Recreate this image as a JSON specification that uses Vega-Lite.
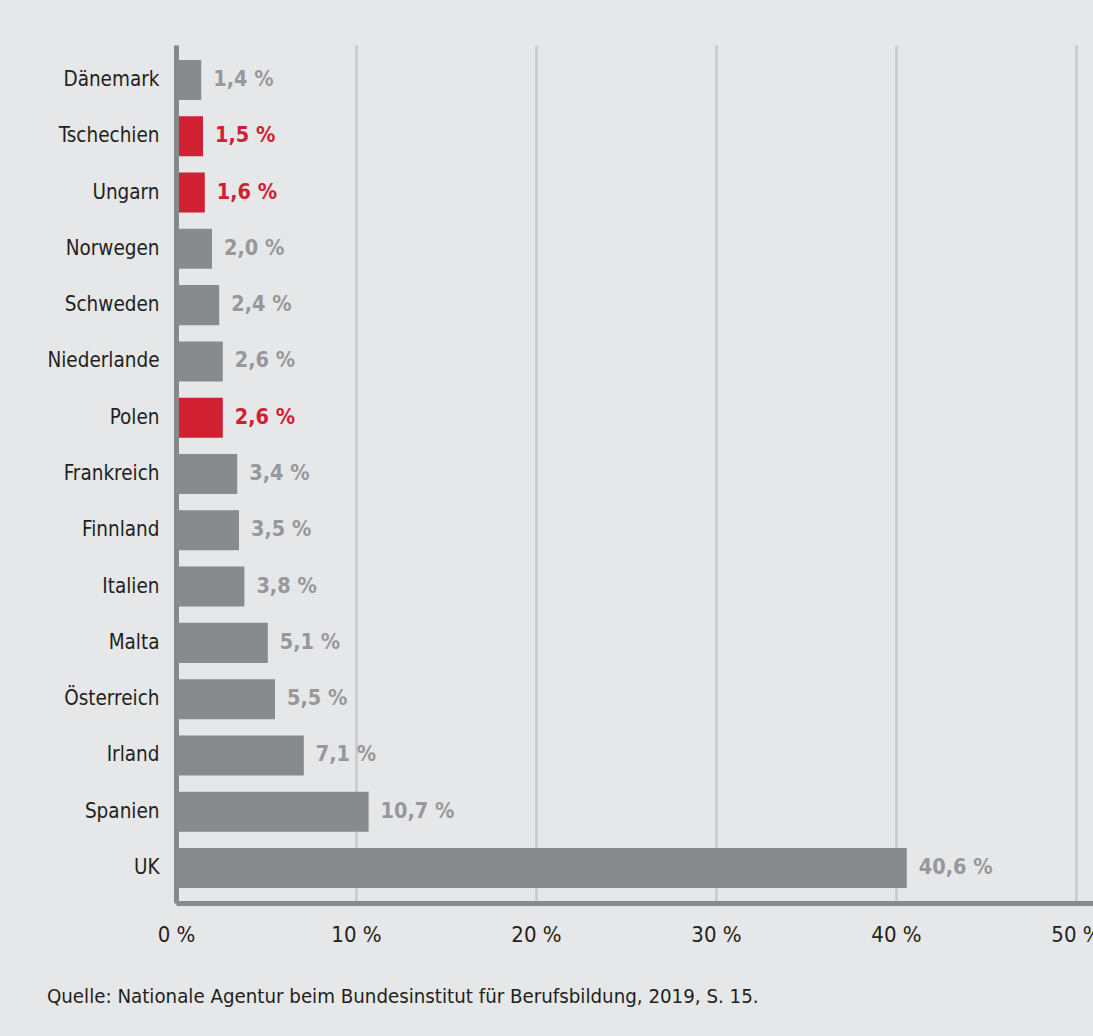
{
  "$schema": "https://vega.github.io/schema/vega-lite/v6.json",
  "autosize": "none",
  "padding": {"left": 176, "top": 45, "right": 0, "bottom": 133},
  "width": 917,
  "height": 858,
  "background": "#e6e7e8",
  "config": {
    "view": {"stroke": null},
    "font": "Liberation Sans Narrow, DejaVu Sans Condensed, sans-serif"
  },
  "title": {
    "text": "Quelle: Nationale Agentur beim Bundesinstitut für Berufsbildung, 2019, S. 15.",
    "orient": "bottom",
    "anchor": "start",
    "frame": "bounds",
    "fontSize": 20.3,
    "fontWeight": "normal",
    "color": "#231f20",
    "offset": 42
  },
  "data": {
    "values": [
      {"land": "Dänemark", "wert": 1.4, "label": "1,4 %", "gruppe": "andere"},
      {"land": "Tschechien", "wert": 1.5, "label": "1,5 %", "gruppe": "V4"},
      {"land": "Ungarn", "wert": 1.6, "label": "1,6 %", "gruppe": "V4"},
      {"land": "Norwegen", "wert": 2.0, "label": "2,0 %", "gruppe": "andere"},
      {"land": "Schweden", "wert": 2.4, "label": "2,4 %", "gruppe": "andere"},
      {"land": "Niederlande", "wert": 2.6, "label": "2,6 %", "gruppe": "andere"},
      {"land": "Polen", "wert": 2.6, "label": "2,6 %", "gruppe": "V4"},
      {"land": "Frankreich", "wert": 3.4, "label": "3,4 %", "gruppe": "andere"},
      {"land": "Finnland", "wert": 3.5, "label": "3,5 %", "gruppe": "andere"},
      {"land": "Italien", "wert": 3.8, "label": "3,8 %", "gruppe": "andere"},
      {"land": "Malta", "wert": 5.1, "label": "5,1 %", "gruppe": "andere"},
      {"land": "Österreich", "wert": 5.5, "label": "5,5 %", "gruppe": "andere"},
      {"land": "Irland", "wert": 7.1, "label": "7,1 %", "gruppe": "andere"},
      {"land": "Spanien", "wert": 10.7, "label": "10,7 %", "gruppe": "andere"},
      {"land": "UK", "wert": 40.6, "label": "40,6 %", "gruppe": "andere"}
    ]
  },
  "encoding": {
    "y": {
      "field": "land",
      "type": "nominal",
      "sort": null,
      "scale": {"paddingInner": 0.289, "paddingOuter": 0.2655},
      "axis": {
        "title": null,
        "ticks": false,
        "domainColor": "#88898c",
        "domainWidth": 5,
        "labelFontSize": 20.5,
        "labelColor": "#231f20",
        "labelPadding": 17,
        "zindex": 1
      }
    },
    "x": {
      "field": "wert",
      "type": "quantitative",
      "scale": {"domain": [0, 50.944], "nice": false},
      "axis": {
        "title": null,
        "values": [0, 10, 20, 30, 40, 50],
        "labelExpr": "datum.value + ' %'",
        "ticks": false,
        "domainColor": "#88898c",
        "domainWidth": 5,
        "gridColor": "#c8c9cb",
        "gridWidth": 2.5,
        "labelFontSize": 22,
        "labelColor": "#231f20",
        "labelPadding": 21,
        "labelFlush": false,
        "zindex": 0
      }
    }
  },
  "layer": [
    {
      "mark": {"type": "bar"},
      "encoding": {
        "color": {
          "field": "gruppe",
          "type": "nominal",
          "scale": {"domain": ["andere", "V4"], "range": ["#898a8d", "#d12031"]},
          "legend": null
        }
      }
    },
    {
      "mark": {"type": "text", "align": "left", "baseline": "middle", "dx": 12, "fontSize": 21.5, "fontWeight": "bold"},
      "encoding": {
        "text": {"field": "label"},
        "color": {
          "field": "gruppe",
          "type": "nominal",
          "scale": {"domain": ["andere", "V4"], "range": ["#97989b", "#d12031"]},
          "legend": null
        }
      }
    }
  ],
  "resolve": {"scale": {"color": "independent"}}
}
